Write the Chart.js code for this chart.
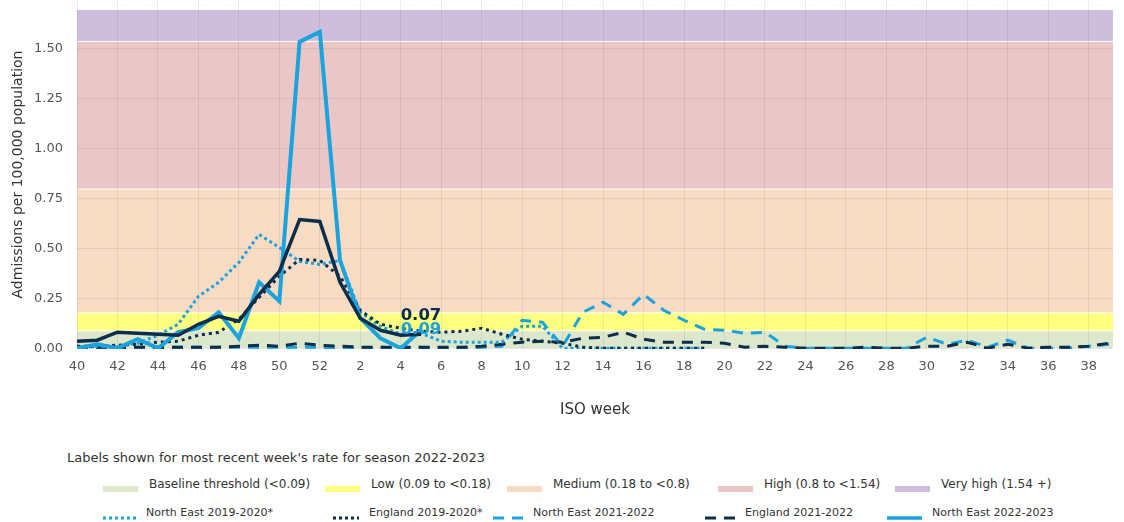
<!DOCTYPE html>
<html>
<head>
<meta charset="utf-8">
<script src="https://cdn.jsdelivr.net/npm/chart.js@4/dist/chart.umd.min.js"></script>
<style>
  body { margin: 0; background: #fff; font-family: "DejaVu Sans", Verdana, sans-serif; }
  #wrap { position: relative; width: 1124px; height: 522px; overflow: hidden; }
  #chartBox { position: absolute; left: 0; top: 0; width: 1124px; height: 430px; }
  .lg { position: absolute; font-size: 11.5px; color: #333; white-space: nowrap; line-height: 14px; }
  .sw { position: absolute; }
</style>
</head>
<body>
<div id="wrap">
  <div id="chartBox"><canvas id="admissionsChart"></canvas></div>
  <div id="legend"></div>
</div>
<script>
// ISO weeks for the season, week 40 through week 39
const weeks = [40, 41, 42, 43, 44, 45, 46, 47, 48, 49, 50, 51, 52,
  1, 2, 3, 4, 5, 6, 7, 8, 9, 10, 11, 12, 13, 14, 15, 16, 17, 18, 19, 20,
  21, 22, 23, 24, 25, 26, 27, 28, 29, 30, 31, 32, 33, 34, 35, 36, 37, 38, 39];

const yTicks = [0, 0.25, 0.5, 0.75, 1, 1.25, 1.5];

// threshold bands (admissions per 100,000)
const bandEdges = [0, 0.09, 0.18, 0.8, 1.54, 1.70];
const bandNames = ['Baseline threshold (<0.09)', 'Low (0.09 to <0.18)', 'Medium (0.18 to <0.8)', 'High (0.8 to <1.54)', 'Very high (1.54 +)'];
const bandColours = ['#dde7cb', '#ffff80', '#f8dbc3', '#eac6c6', '#cfbedb'];

const blue = '#1ba3dd';
const navy = '#0c2d4b';

const neEast2022 = [0.00, 0.02, 0.00, 0.045, 0.00, 0.08, 0.10, 0.18, 0.05, 0.33, 0.235, 1.535, 1.585,
  0.44, 0.15, 0.05, 0.00, 0.09, null, null, null, null, null, null, null, null, null, null, null, null,
  null, null, null, null, null, null, null, null, null, null, null, null, null, null, null, null, null,
  null, null, null, null, null];
const england2022 = [0.035, 0.04, 0.08, 0.075, 0.07, 0.065, 0.12, 0.16, 0.135, 0.27, 0.385, 0.645, 0.635,
  0.33, 0.15, 0.09, 0.065, 0.07, null, null, null, null, null, null, null, null, null, null, null, null,
  null, null, null, null, null, null, null, null, null, null, null, null, null, null, null, null, null,
  null, null, null, null, null];
const neEast2019 = [0.00, 0.01, 0.01, 0.025, 0.065, 0.12, 0.26, 0.33, 0.43, 0.57, 0.505, 0.435, 0.42,
  0.44, 0.18, 0.11, 0.07, 0.075, 0.035, 0.03, 0.03, 0.03, 0.11, 0.11, 0.00, 0.00, 0.00, 0.00, 0.00,
  0.00, 0.00, 0.00, null, null, null, null, null, null, null, null, null, null, null, null, null, null,
  null, null, null, null, null, null];
const england2019 = [0.01, 0.01, 0.015, 0.02, 0.03, 0.035, 0.065, 0.08, 0.145, 0.255, 0.36, 0.445, 0.44,
  0.36, 0.19, 0.12, 0.10, 0.085, 0.08, 0.085, 0.10, 0.07, 0.045, 0.035, 0.025, 0.005, 0.00, 0.00, 0.00,
  0.00, 0.00, 0.00, null, null, null, null, null, null, null, null, null, null, null, null, null, null,
  null, null, null, null, null, null];
const neEast2021 = [0.005, 0.005, 0.005, 0.005, 0.005, 0.005, 0.005, 0.005, 0.005, 0.005, 0.005, 0.005, 0.005,
  0.00, 0.00, 0.005, 0.00, 0.005, 0.00, 0.00, 0.005, 0.01, 0.14, 0.13, 0.01, 0.18, 0.23, 0.17, 0.27,
  0.19, 0.14, 0.095, 0.09, 0.075, 0.08, 0.01, 0.00, 0.00, 0.00, 0.00, 0.00, 0.00, 0.055, 0.02, 0.04,
  0.005, 0.04, 0.00, 0.00, 0.00, 0.01, 0.02];
const england2021 = [0.005, 0.005, 0.005, 0.005, 0.005, 0.005, 0.005, 0.005, 0.01, 0.015, 0.01, 0.025, 0.015,
  0.01, 0.005, 0.005, 0.005, 0.005, 0.005, 0.005, 0.01, 0.02, 0.03, 0.035, 0.03, 0.05, 0.055, 0.08, 0.045,
  0.03, 0.03, 0.03, 0.025, 0.005, 0.01, 0.005, 0.00, 0.00, 0.00, 0.005, 0.00, 0.00, 0.01, 0.01, 0.03,
  0.00, 0.02, 0.00, 0.005, 0.005, 0.01, 0.025];

const xTickIdx = weeks.map((w, i) => i).filter(i => i % 2 === 0);

function points(arr) {
  return arr.map((v, i) => ({ x: i, y: v }));
}

// coloured threshold bands behind everything
const bandPlugin = {
  id: 'bands',
  beforeDraw(chart) {
    const { ctx, chartArea: a, scales: { y } } = chart;
    ctx.save();
    for (let i = 0; i < bandColours.length; i++) {
      const top = y.getPixelForValue(bandEdges[i + 1]);
      const bottom = Math.min(y.getPixelForValue(bandEdges[i]), a.bottom);
      ctx.fillStyle = bandColours[i];
      ctx.fillRect(a.left, top + 1, a.right - a.left, bottom - top - 1);
    }
    ctx.restore();
  }
};

// value labels on the latest week of 2022-2023
const latest = [
  { data: england2022, colour: navy, dy: -19 },
  { data: neEast2022, colour: blue, dy: -1 }
];
const latestLabelPlugin = {
  id: 'latestLabels',
  afterDatasetsDraw(chart) {
    const { ctx, scales: { x, y } } = chart;
    ctx.save();
    ctx.font = 'bold 16.5px "DejaVu Sans", Verdana, sans-serif';
    ctx.textAlign = 'center';
    ctx.textBaseline = 'middle';
    latest.forEach(l => {
      let idx = l.data.length - 1;
      while (idx > 0 && l.data[idx] === null) idx--;
      ctx.fillStyle = l.colour;
      ctx.fillText(l.data[idx].toFixed(2), x.getPixelForValue(idx), y.getPixelForValue(l.data[idx]) + l.dy);
    });
    ctx.restore();
  }
};

const gridColour = 'rgba(110,110,110,0.13)';
const tickFont = { family: '"DejaVu Sans", Verdana, sans-serif', size: 13 };

new Chart(document.getElementById('admissionsChart').getContext('2d'), {
  type: 'line',
  data: {
    datasets: [
      { label: 'England 2022-2023', data: points(england2022), borderColor: navy, borderWidth: 3.5 },
      { label: 'North East 2022-2023', data: points(neEast2022), borderColor: blue, borderWidth: 4 },
      { label: 'England 2019-2020*', data: points(england2019), borderColor: navy, borderWidth: 3, borderDash: [3, 4] },
      { label: 'North East 2019-2020*', data: points(neEast2019), borderColor: blue, borderWidth: 3, borderDash: [3, 3] },
      { label: 'England 2021-2022', data: points(england2021), borderColor: navy, borderWidth: 3, borderDash: [11, 8] },
      { label: 'North East 2021-2022', data: points(neEast2021), borderColor: blue, borderWidth: 3, borderDash: [11, 8] }
    ]
  },
  options: {
    responsive: true,
    maintainAspectRatio: false,
    animation: false,
    layout: { padding: { top: 0, right: 11, bottom: 0, left: 0 } },
    elements: { point: { radius: 0 }, line: { tension: 0, fill: false } },
    plugins: { legend: { display: false }, tooltip: { enabled: false } },
    scales: {
      x: {
        type: 'linear',
        min: 0,
        max: 51.2,
        afterBuildTicks: s => { s.ticks = xTickIdx.map(v => ({ value: v })); },
        afterFit: s => { s.height = 81; },
        grid: { color: gridColour, drawTicks: false },
        border: { display: false },
        ticks: {
          autoSkip: false, maxRotation: 0, padding: 10, color: '#555', font: tickFont,
          callback: v => weeks[v]
        },
        title: {
          display: true, text: 'ISO week', color: '#333',
          font: { family: '"DejaVu Sans", Verdana, sans-serif', size: 15 },
          padding: { top: 0, bottom: 11 }
        }
      },
      y: {
        min: -0.004,
        max: 1.745,
        afterBuildTicks: s => { s.ticks = yTicks.map(v => ({ value: v })); },
        afterFit: s => { s.width = 77; s.paddingTop = 0; s.paddingBottom = 0; },
        grid: { color: gridColour, drawTicks: false },
        border: { display: false },
        ticks: { padding: 14, color: '#555', font: tickFont, callback: v => v.toFixed(2) },
        title: {
          display: true, text: 'Admissions per 100,000 population', color: '#333',
          font: { family: '"DejaVu Sans", Verdana, sans-serif', size: 14 },
          padding: { top: 10, bottom: 0 }
        }
      }
    }
  },
  plugins: [bandPlugin, latestLabelPlugin]
});

// legend below the chart
const legend = document.getElementById('legend');
function addText(text, left, top, size) {
  const d = document.createElement('div');
  d.className = 'lg';
  d.style.left = left + 'px';
  d.style.top = top + 'px';
  if (size) d.style.fontSize = size + 'px';
  d.textContent = text;
  legend.appendChild(d);
}
function addSwatch(left, top, svgInner) {
  const d = document.createElement('div');
  d.className = 'sw';
  d.style.left = left + 'px';
  d.style.top = top + 'px';
  d.innerHTML = '<svg width="36" height="10">' + svgInner + '</svg>';
  legend.appendChild(d);
}

addText("Labels shown for most recent week's rate for season 2022-2023", 67, 451, 13);

const bandLeft = [103, 325, 507, 718, 895];
bandNames.forEach((name, i) => {
  addSwatch(bandLeft[i], 479, '<rect x="0" y="2" width="35" height="6" fill="' + bandColours[i] + '"/>');
  addText(name, bandLeft[i] + 46, 477, 12);
});

const lineItems = [
  { name: 'North East 2019-2020*', colour: blue, dash: '3 3', w: 3, left: 103, width: 33 },
  { name: 'England 2019-2020*', colour: navy, dash: '3 3', w: 3, left: 333, width: 26 },
  { name: 'North East 2021-2022', colour: blue, dash: '11 8', w: 3, left: 493, width: 30 },
  { name: 'England 2021-2022', colour: navy, dash: '11 8', w: 3, left: 705, width: 30 },
  { name: 'North East 2022-2023', colour: blue, dash: 'none', w: 3.5, left: 887, width: 35 }
];
lineItems.forEach(it => {
  addSwatch(it.left, 508, '<line x1="0" y1="5" x2="' + it.width + '" y2="5" stroke="' + it.colour +
    '" stroke-width="' + it.w + '" stroke-dasharray="' + it.dash + '"/>');
  addText(it.name, it.left + it.width + 10, 506, 11);
});
</script>
</body>
</html>
